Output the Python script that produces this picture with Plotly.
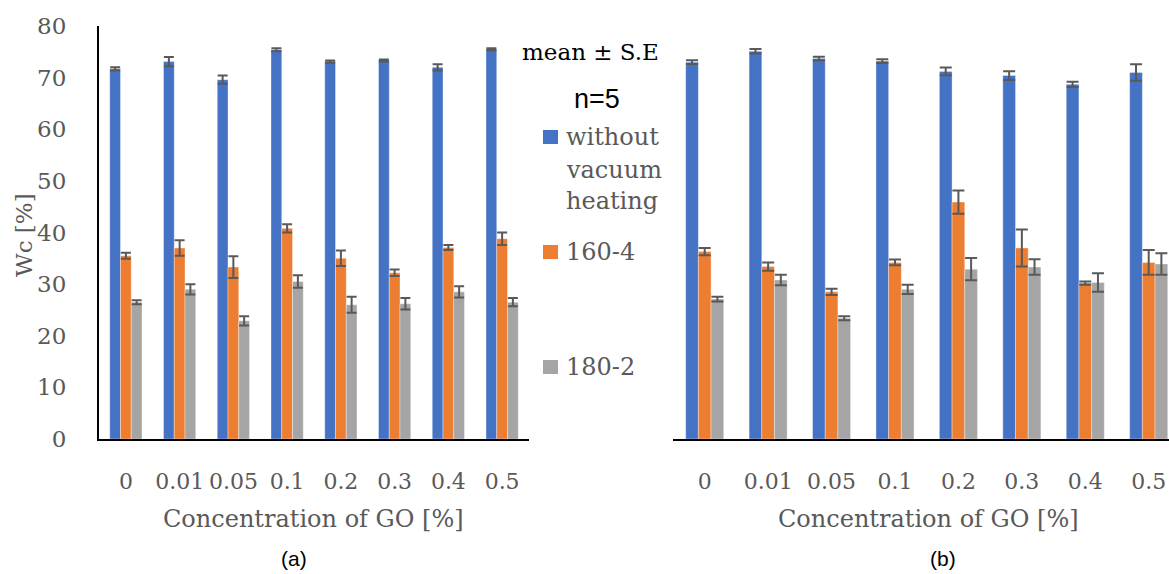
import plotly.graph_objects as go

categories = ["0", "0.01", "0.05", "0.1", "0.2", "0.3", "0.4", "0.5"]
series_names = ["without vacuum heating", "160-4", "180-2"]
colors = ["#4472C4", "#ED7D31", "#A5A5A5"]

# Panel (a)
a_without = [71.7, 73.1, 69.6, 75.4, 73.1, 73.3, 72.0, 75.5]
a_without_se = [0.3, 0.9, 0.8, 0.3, 0.2, 0.2, 0.6, 0.2]
a_160 = [35.5, 37.0, 33.3, 40.8, 35.0, 32.2, 37.1, 38.8]
a_160_se = [0.6, 1.5, 2.1, 0.8, 1.5, 0.65, 0.5, 1.2]
a_180 = [26.5, 29.0, 22.9, 30.5, 26.0, 26.2, 28.5, 26.5]
a_180_se = [0.4, 1.0, 0.9, 1.2, 1.55, 1.1, 1.1, 0.8]

# Panel (b)
b_without = [73.0, 75.1, 73.7, 73.2, 71.2, 70.4, 68.7, 71.0]
b_without_se = [0.35, 0.45, 0.35, 0.35, 0.75, 0.85, 0.5, 1.6]
b_160 = [36.3, 33.4, 28.5, 34.2, 45.9, 37.0, 30.2, 34.2]
b_160_se = [0.7, 0.8, 0.6, 0.55, 2.25, 3.6, 0.3, 2.4]
b_180 = [27.1, 30.8, 23.4, 29.0, 32.9, 33.3, 30.3, 33.9]
b_180_se = [0.45, 1.0, 0.4, 0.9, 2.15, 1.5, 1.8, 2.1]

W, H = 1169, 574
SERIF = "DejaVu Serif"
GRAY_TXT = "#595959"
FS = 22

fig = go.Figure()
panels = [
    ("x", "y", [a_without, a_160, a_180], [a_without_se, a_160_se, a_180_se], 5),
    ("x2", "y2", [b_without, b_160, b_180], [b_without_se, b_160_se, b_180_se], 6),
]
for xa, ya, vals, ses, capw in panels:
    for name, col, v, se in zip(series_names, colors, vals, ses):
        fig.add_trace(go.Bar(
            x=categories, y=v, name=name, xaxis=xa, yaxis=ya,
            marker=dict(color=col, line=dict(width=0.6, color="rgba(255,255,255,0.6)")),
            error_y=dict(type="data", array=se, visible=True, color="#595959",
                         thickness=2, width=capw),
            showlegend=False,
        ))

def px_x(p):
    return p / W

def px_y(p):
    return 1 - p / H

y_dom = [px_y(439), px_y(26)]

fig.update_layout(
    width=W, height=H, autosize=False,
    margin=dict(l=0, r=0, t=0, b=0, pad=0),
    paper_bgcolor="white", plot_bgcolor="white",
    barmode="group", bargap=0.4, bargroupgap=0,
    font=dict(family=SERIF, size=FS, color=GRAY_TXT),
    xaxis=dict(domain=[px_x(99), px_x(529)], range=[-0.5, 7.5], type="category",
               showline=True, linecolor="black", linewidth=2, ticks="",
               showgrid=False, ticklabelstandoff=22, automargin=False,
               tickfont=dict(family=SERIF, size=FS, color=GRAY_TXT), anchor="y"),
    yaxis=dict(domain=y_dom, range=[0, 80], dtick=10, showline=True,
               linecolor="black", linewidth=2, ticks="", showgrid=False,
               zeroline=False, ticklabelstandoff=26, automargin=False,
               tickfont=dict(family=SERIF, size=FS + 1, color=GRAY_TXT), anchor="x"),
    xaxis2=dict(domain=[px_x(673), 1.0], range=[-0.5, 7.32], type="category",
                showline=True, linecolor="black", linewidth=2, ticks="",
                showgrid=False, ticklabelstandoff=22, automargin=False,
                tickfont=dict(family=SERIF, size=FS, color=GRAY_TXT), anchor="y2"),
    yaxis2=dict(domain=y_dom, range=[0, 80], showline=False, showticklabels=False,
                ticks="", showgrid=False, zeroline=False, anchor="x2", automargin=False),
)

def note(text, x, y, size, color, family=SERIF, xanchor="center", angle=0):
    return dict(text=text, x=px_x(x), y=px_y(y), xref="paper", yref="paper",
                xanchor=xanchor, yanchor="middle", showarrow=False, textangle=angle,
                font=dict(family=family, size=size, color=color))

ann = []
ann.append(note("Concentration of GO [%]", 313, 519, 24, GRAY_TXT))
ann.append(note("Concentration of GO [%]", 928, 519, 24, GRAY_TXT))
ann.append(note("Wc [%]", 24, 235, 23, GRAY_TXT, angle=-90))
ann.append(note("(a)", 294, 558, 21, "black", family="Liberation Sans"))
ann.append(note("(b)", 943, 558, 21, "black", family="Liberation Sans"))
ann.append(note("mean ± S.E", 590, 52, 23, "black"))
ann.append(note("n=5", 597, 99, 27, "black", family="Liberation Sans"))

# manual legend
legend_rows = [[137, 170, 201], [252], [367]]
square_centers = [137, 252, 367]
shapes = []
for name, col, rows, sc in zip(series_names, colors, legend_rows, square_centers):
    shapes.append(dict(type="rect", xref="paper", yref="paper",
                       x0=px_x(543), x1=px_x(558), y0=px_y(sc + 7), y1=px_y(sc - 7),
                       fillcolor=col, line=dict(width=0)))
    words = name.split(" ") if len(rows) > 1 else [name]
    for w, yy in zip(words, rows):
        ann.append(note(w, 564, yy, 24, GRAY_TXT, xanchor="left"))

fig.update_layout(annotations=ann, shapes=shapes)
fig.write_html("out.html")
